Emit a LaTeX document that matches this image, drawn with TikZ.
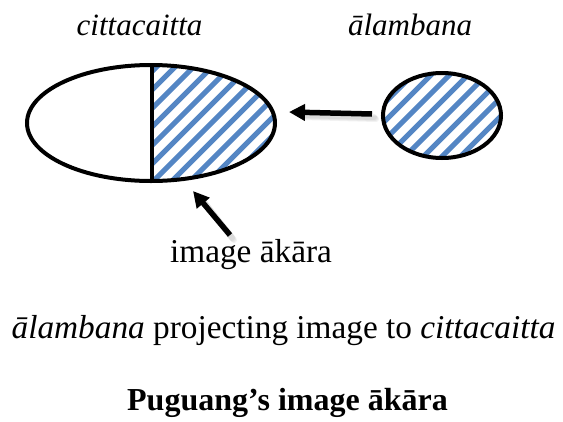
\documentclass[tikz,border=0pt]{standalone}
\usepackage{fontspec}
\setmainfont{Liberation Serif}[
  UprightFont={Liberation Serif},
  ItalicFont={Liberation Serif Italic},
  BoldFont={Liberation Serif Bold},
  BoldItalicFont={Liberation Serif Bold Italic}]
\usetikzlibrary{arrows.meta}
\definecolor{hatchblue}{RGB}{84,134,196}
\tikzset{
  outline/.style={draw=black, line width=4pt},
  hatchline/.style={draw=hatchblue, line width=5pt},
  pointer/.style={draw=black, line width=5.5pt, -{Triangle[length=16pt,width=16pt]}},
  pointershadow/.style={draw=black, line width=6pt, opacity=0.05, line cap=round},
  label/.style={inner sep=0pt, anchor=base, font=\fontsize{31}{36}\selectfont\itshape},
  caption/.style={inner sep=0pt, anchor=base, font=\fontsize{33.3}{40}\selectfont},
  heading/.style={inner sep=0pt, anchor=base, font=\fontsize{32}{40}\selectfont\bfseries},
}
\begin{document}
\begin{tikzpicture}[x=1pt,y=-1pt]
  \useasboundingbox (0,0) rectangle (563,421);

  % hatching of the right half of the mind ellipse
  \begin{scope}
    \clip (151,123) ellipse [x radius=124, y radius=58];
    \clip (152,50) rectangle (290,200);
    \foreach \i in {0,...,20} {
      \path[hatchline] (5+\i*18.5,200) -- ++(160,-160);
    }
  \end{scope}
  % hatching of the object ellipse
  \begin{scope}
    \clip (442,115.5) ellipse [x radius=59, y radius=42.5];
    \foreach \i in {0,...,16} {
      \path[hatchline] (262+\i*18.5,170) -- ++(120,-120);
    }
  \end{scope}

  % outlines
  \path[outline] (151,123) ellipse [x radius=124, y radius=58];
  \coordinate (mtop) at (152,65);
  \coordinate (mbot) at (152,181);
  \path[outline] (mtop) -- (mbot);
  \path[outline] (442,115.5) ellipse [x radius=59, y radius=42.5];

  % arrow anchors
  \coordinate (objtail) at (372,114);
  \coordinate (objtip) at (289,112);
  \coordinate (imgtail) at (230,235);
  \coordinate (imgtip) at (193,191);

  % soft shadows under the arrows
  \foreach \d in {2,3,4} {
    \path[pointershadow] ([xshift=\d pt, yshift=-\d pt-1pt]objtail) -- ([xshift=\d pt+10pt, yshift=-\d pt-1pt]objtip);
    \path[pointershadow] ([xshift=\d pt, yshift=-\d pt-1pt]imgtail) -- ([xshift=\d pt+7pt, yshift=-\d pt-7pt]imgtip);
  }
  \path[pointer] (objtail) -- (objtip);
  \path[pointer] (imgtail) -- (imgtip);

  % texts
  \node[label] (mind) at (139.5,35) {cittacaitta};
  \node[label] (obj) at (410,35) {ālambana};
  \node[caption] (img) at (251,262) {image ākāra};
  \node[caption] (desc) at (283.5,338) {\textit{ālambana} projecting image to \textit{cittacaitta}};
  \node[heading] (title) at (287.5,410) {Puguang’s image ākāra};
\end{tikzpicture}
\end{document}
